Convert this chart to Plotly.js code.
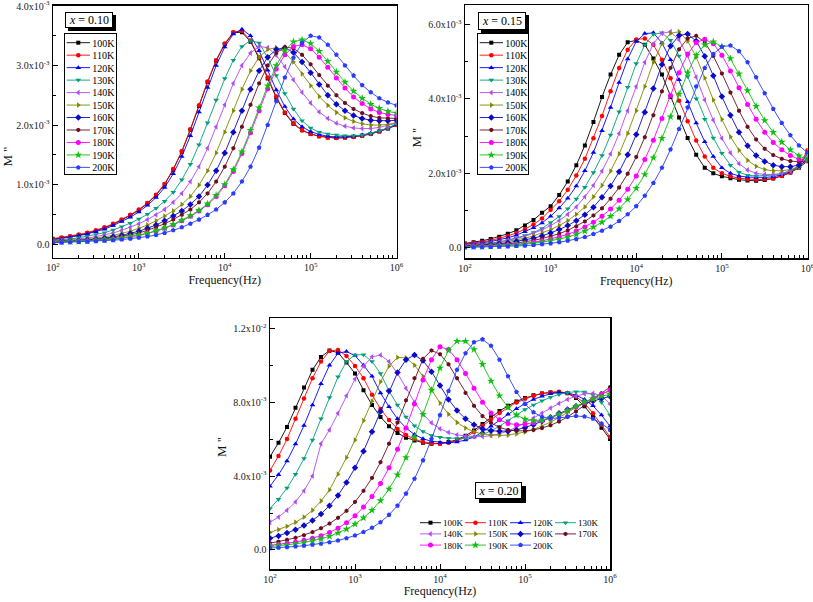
<!DOCTYPE html>
<html>
<head>
<meta charset="utf-8">
<script src="https://cdn.plot.ly/plotly-3.0.1.min.js"></script>
<style>
html,body{margin:0;padding:0;background:#fff;}
#chart{width:813px;height:602px;}
</style>
</head>
<body>
<div id="chart"></div>
<script>
// Frequencies (Hz), 10 points per decade
const freq = [100,125.9,158.5,199.5,251.2,316.2,398.1,501.2,631.0,794.3,
  1000,1259,1585,1995,2512,3162,3981,5012,6310,7943,
  10000,12589,15849,19953,25119,31623,39811,50119,63096,79433,
  100000,125893,158489,199526,251189,316228,398107,501187,630957,794328,1000000];

const temps = ['100K','110K','120K','130K','140K','150K','160K','170K','180K','190K','200K'];

// x = 0.10  (M'' in units of 1e-3)
const p1_100K = [0.08,0.10,0.12,0.15,0.18,0.22,0.27,0.33,0.40,0.48,0.57,0.68,0.82,1.00,1.25,1.55,1.92,2.32,2.72,3.08,3.36,3.55,3.56,3.40,3.12,2.78,2.46,2.20,2.02,1.91,1.85,1.81,1.79,1.78,1.79,1.80,1.82,1.85,1.89,1.94,2.00];
const p1_110K = [0.09,0.11,0.13,0.16,0.19,0.23,0.28,0.34,0.41,0.49,0.58,0.69,0.83,1.01,1.26,1.56,1.93,2.33,2.73,3.09,3.37,3.56,3.58,3.42,3.14,2.80,2.48,2.21,2.03,1.91,1.85,1.81,1.79,1.78,1.79,1.80,1.82,1.85,1.89,1.94,2.00];
const p1_120K = [0.07,0.09,0.11,0.14,0.17,0.21,0.25,0.31,0.38,0.45,0.54,0.65,0.78,0.95,1.18,1.47,1.82,2.22,2.63,3.00,3.31,3.53,3.61,3.50,3.25,2.92,2.59,2.31,2.10,1.97,1.89,1.84,1.81,1.80,1.80,1.81,1.83,1.86,1.90,1.95,2.01];
const p1_130K = [0.06,0.07,0.085,0.105,0.13,0.16,0.19,0.235,0.29,0.35,0.42,0.50,0.60,0.72,0.87,1.08,1.34,1.67,2.04,2.42,2.78,3.09,3.32,3.42,3.38,3.13,2.83,2.53,2.27,2.07,1.95,1.88,1.85,1.83,1.82,1.82,1.83,1.86,1.90,1.95,2.02];
const p1_140K = [0.05,0.06,0.07,0.085,0.10,0.125,0.155,0.185,0.23,0.28,0.34,0.41,0.49,0.58,0.70,0.85,1.05,1.30,1.61,1.97,2.34,2.70,3.00,3.21,3.32,3.30,3.17,2.98,2.76,2.55,2.37,2.22,2.11,2.03,1.98,1.95,1.94,1.94,1.96,1.99,2.03];
const p1_150K = [0.05,0.055,0.06,0.07,0.08,0.10,0.12,0.145,0.18,0.215,0.265,0.32,0.39,0.47,0.555,0.665,0.80,0.99,1.23,1.53,1.88,2.24,2.60,2.91,3.14,3.27,3.30,3.22,3.06,2.86,2.66,2.48,2.33,2.21,2.12,2.06,2.02,2.00,2.00,2.01,2.04];
const p1_160K = [0.04,0.045,0.05,0.06,0.07,0.08,0.095,0.12,0.145,0.175,0.215,0.265,0.32,0.39,0.47,0.555,0.665,0.80,0.99,1.23,1.53,1.88,2.24,2.60,2.91,3.14,3.27,3.30,3.22,3.06,2.88,2.68,2.50,2.35,2.24,2.16,2.11,2.08,2.07,2.07,2.08];
const p1_170K = [0.035,0.04,0.045,0.05,0.06,0.07,0.085,0.10,0.125,0.155,0.185,0.23,0.28,0.34,0.41,0.49,0.58,0.70,0.85,1.05,1.30,1.61,1.97,2.34,2.70,3.00,3.21,3.31,3.29,3.18,3.02,2.84,2.66,2.50,2.37,2.27,2.20,2.15,2.12,2.11,2.11];
const p1_180K = [0.03,0.035,0.04,0.045,0.05,0.06,0.07,0.08,0.095,0.12,0.145,0.175,0.215,0.265,0.32,0.39,0.465,0.555,0.66,0.80,0.98,1.22,1.52,1.87,2.24,2.61,2.94,3.18,3.32,3.35,3.28,3.14,2.97,2.79,2.62,2.47,2.36,2.27,2.21,2.18,2.16];
const p1_190K = [0.03,0.035,0.04,0.045,0.05,0.06,0.07,0.08,0.10,0.12,0.15,0.18,0.22,0.27,0.33,0.40,0.475,0.565,0.675,0.82,1.00,1.25,1.55,1.91,2.29,2.66,3.00,3.25,3.40,3.43,3.37,3.24,3.07,2.89,2.72,2.57,2.45,2.35,2.28,2.23,2.20];
const p1_200K = [0.02,0.025,0.03,0.035,0.04,0.045,0.055,0.065,0.075,0.09,0.105,0.125,0.15,0.185,0.23,0.28,0.34,0.41,0.49,0.58,0.70,0.85,1.05,1.30,1.62,2.00,2.40,2.80,3.13,3.38,3.50,3.47,3.35,3.18,3.00,2.83,2.67,2.55,2.45,2.38,2.33];

// x = 0.15
const p2_100K = [0.12,0.15,0.19,0.24,0.30,0.38,0.47,0.60,0.75,0.94,1.12,1.42,1.78,2.22,2.75,3.38,4.05,4.65,5.18,5.52,5.57,5.45,5.08,4.65,4.05,3.50,2.95,2.50,2.15,2.00,1.92,1.87,1.83,1.81,1.80,1.82,1.86,1.93,2.02,2.15,2.33];
const p2_110K = [0.11,0.13,0.16,0.20,0.25,0.32,0.40,0.50,0.63,0.79,1.02,1.25,1.56,1.94,2.39,2.94,3.54,4.20,4.83,5.32,5.59,5.62,5.45,5.05,4.55,3.95,3.40,2.88,2.45,2.15,2.00,1.92,1.87,1.84,1.83,1.84,1.87,1.93,2.02,2.20,2.62];
const p2_120K = [0.09,0.11,0.135,0.17,0.21,0.27,0.34,0.43,0.54,0.67,0.85,1.07,1.33,1.66,2.07,2.56,3.14,3.77,4.44,5.07,5.54,5.75,5.77,5.50,5.05,4.51,3.92,3.35,2.85,2.45,2.15,2.00,1.93,1.90,1.89,1.89,1.91,1.96,2.05,2.18,2.55];
const p2_130K = [0.07,0.08,0.10,0.13,0.16,0.21,0.26,0.33,0.41,0.52,0.68,0.84,1.05,1.31,1.63,2.02,2.48,3.03,3.65,4.31,4.95,5.45,5.73,5.77,5.57,5.15,4.60,4.00,3.45,2.95,2.54,2.22,2.03,1.95,1.93,1.93,1.95,1.99,2.07,2.21,2.50];
const p2_140K = [0.07,0.085,0.105,0.13,0.16,0.20,0.25,0.31,0.39,0.48,0.60,0.73,0.90,1.10,1.37,1.68,2.06,2.52,3.07,3.68,4.33,4.98,5.48,5.76,5.80,5.58,5.15,4.58,3.97,3.43,2.94,2.55,2.26,2.09,2.00,1.97,1.97,2.00,2.06,2.17,2.41];
const p2_150K = [0.06,0.07,0.09,0.11,0.135,0.17,0.21,0.26,0.32,0.40,0.49,0.60,0.73,0.90,1.10,1.37,1.68,2.06,2.52,3.07,3.68,4.33,4.98,5.48,5.76,5.80,5.55,5.12,4.56,3.97,3.45,2.98,2.62,2.35,2.19,2.10,2.07,2.07,2.10,2.17,2.36];
const p2_160K = [0.05,0.06,0.07,0.09,0.11,0.135,0.17,0.21,0.26,0.32,0.40,0.49,0.60,0.73,0.89,1.09,1.36,1.66,2.04,2.50,3.04,3.64,4.28,4.92,5.42,5.70,5.74,5.55,5.14,4.62,4.06,3.56,3.10,2.74,2.48,2.32,2.22,2.18,2.18,2.22,2.35];
const p2_170K = [0.04,0.05,0.06,0.07,0.085,0.105,0.13,0.16,0.20,0.25,0.31,0.38,0.47,0.58,0.71,0.87,1.06,1.32,1.62,1.99,2.44,2.97,3.56,4.20,4.83,5.33,5.62,5.69,5.52,5.15,4.68,4.17,3.68,3.25,2.91,2.66,2.49,2.39,2.33,2.31,2.33];
const p2_180K = [0.03,0.04,0.05,0.055,0.065,0.08,0.10,0.12,0.15,0.19,0.24,0.29,0.36,0.45,0.56,0.69,0.85,1.04,1.28,1.57,1.93,2.37,2.89,3.47,4.09,4.70,5.20,5.51,5.60,5.48,5.17,4.75,4.30,3.85,3.45,3.10,2.83,2.63,2.48,2.38,2.33];
const p2_190K = [0.025,0.03,0.035,0.045,0.055,0.065,0.08,0.10,0.12,0.15,0.19,0.23,0.29,0.36,0.45,0.56,0.69,0.85,1.05,1.30,1.60,1.97,2.42,2.94,3.52,4.13,4.70,5.17,5.45,5.53,5.40,5.08,4.67,4.22,3.80,3.42,3.10,2.84,2.63,2.47,2.36];
const p2_200K = [0.01,0.015,0.02,0.025,0.03,0.04,0.05,0.06,0.075,0.095,0.12,0.15,0.19,0.235,0.29,0.37,0.46,0.57,0.72,0.90,1.12,1.40,1.74,2.15,2.64,3.19,3.77,4.33,4.83,5.20,5.40,5.43,5.28,4.98,4.58,4.15,3.73,3.35,3.02,2.75,2.55];

// x = 0.20
const p3_100K = [5.05,5.8,6.65,7.7,8.8,9.75,10.45,10.8,10.68,10.15,9.55,8.65,7.85,7.2,6.7,6.33,6.08,5.92,5.8,5.75,5.76,5.84,5.97,6.18,6.47,6.82,7.18,7.52,7.8,8.04,8.23,8.37,8.47,8.52,8.55,8.48,8.22,7.78,7.22,6.62,6.0];
const p3_110K = [4.3,5.08,6.0,7.1,8.2,9.3,10.2,10.77,10.83,10.5,9.96,9.3,8.4,7.63,7.04,6.55,6.22,6.0,5.85,5.77,5.75,5.8,5.92,6.1,6.38,6.72,7.08,7.42,7.72,7.98,8.18,8.35,8.47,8.54,8.56,8.5,8.3,7.95,7.4,6.78,6.12];
const p3_120K = [3.45,4.07,4.82,5.73,6.74,7.85,9.0,10.0,10.65,10.74,10.52,10.0,9.4,8.5,7.75,7.1,6.6,6.25,6.02,5.88,5.82,5.8,5.85,5.95,6.12,6.38,6.7,7.03,7.35,7.65,7.92,8.15,8.32,8.45,8.52,8.5,8.38,8.15,7.8,7.3,6.7];
const p3_130K = [2.25,2.75,3.35,4.1,4.95,5.95,7.1,8.25,9.37,10.2,10.56,10.57,10.2,9.55,8.6,7.85,7.2,6.73,6.41,6.2,6.1,6.05,6.03,6.05,6.12,6.25,6.45,6.7,7.0,7.3,7.6,7.85,8.08,8.27,8.42,8.52,8.57,8.55,8.4,8.0,7.3];
const p3_140K = [1.5,1.78,2.15,2.6,3.2,4.0,5.75,6.5,7.4,8.35,9.25,9.95,10.45,10.55,10.2,9.55,8.75,8.0,7.35,6.88,6.56,6.36,6.23,6.16,6.13,6.14,6.19,6.29,6.44,6.64,6.88,7.14,7.41,7.68,7.93,8.15,8.33,8.45,8.48,8.35,7.9];
const p3_150K = [0.95,1.1,1.28,1.5,1.78,2.15,2.65,3.25,4.1,5.0,5.95,7.0,8.05,9.1,9.95,10.42,10.4,10.0,9.4,8.65,7.95,7.35,6.9,6.6,6.4,6.28,6.22,6.2,6.22,6.28,6.38,6.52,6.7,6.92,7.17,7.45,7.73,8.0,8.25,8.45,8.6];
const p3_160K = [0.63,0.76,0.92,1.1,1.32,1.6,1.95,2.4,2.95,3.65,4.45,5.35,6.4,7.5,8.6,9.6,10.3,10.55,10.25,9.65,8.9,8.15,7.55,7.1,6.78,6.56,6.45,6.42,6.43,6.5,6.62,6.78,6.97,7.18,7.4,7.6,7.78,7.93,8.07,8.2,8.32];
const p3_170K = [0.37,0.45,0.55,0.66,0.8,0.97,1.18,1.43,1.74,2.12,2.6,3.2,3.9,4.75,5.75,6.9,8.1,9.3,10.35,10.8,10.6,10.05,9.3,8.5,7.8,7.25,6.88,6.63,6.5,6.45,6.45,6.5,6.6,6.75,6.95,7.2,7.5,7.82,8.15,8.48,8.82];
const p3_180K = [0.25,0.3,0.36,0.43,0.52,0.63,0.77,0.95,1.18,1.48,1.85,2.32,2.9,3.6,4.45,5.45,6.6,7.9,9.2,10.3,11.0,10.85,10.3,9.55,8.75,8.0,7.42,7.05,6.85,6.78,6.8,6.88,7.0,7.15,7.33,7.53,7.75,7.98,8.2,8.43,8.65];
const p3_190K = [0.18,0.22,0.27,0.33,0.4,0.49,0.6,0.74,0.92,1.13,1.4,1.74,2.15,2.67,3.3,4.07,5.0,6.1,7.35,8.65,9.85,10.8,11.3,11.3,10.85,10.05,9.15,8.35,7.72,7.3,7.08,7.0,7.03,7.15,7.33,7.55,7.78,8.0,8.18,8.32,8.42];
const p3_200K = [0.1,0.12,0.15,0.19,0.23,0.28,0.34,0.42,0.51,0.63,0.78,0.97,1.2,1.5,1.9,2.4,3.05,3.85,4.85,6.0,7.3,8.6,9.75,10.65,11.25,11.4,11.05,10.3,9.4,8.55,7.9,7.45,7.2,7.12,7.15,7.22,7.25,7.22,7.1,6.85,6.5];

const xTickVals = [100,1000,10000,100000,1000000];
const xTickText = ['10<sup>2</sup>','10<sup>3</sup>','10<sup>4</sup>','10<sup>5</sup>','10<sup>6</sup>'];
const y1TickVals = [0,1,2,3,4];
const y1TickText = ['0.0','1.0x10<sup>-3</sup>','2.0x10<sup>-3</sup>','3.0x10<sup>-3</sup>','4.0x10<sup>-3</sup>'];
const y2TickVals = [0,2,4,6];
const y2TickText = ['0.0','2.0x10<sup>-3</sup>','4.0x10<sup>-3</sup>','6.0x10<sup>-3</sup>'];
const y3TickVals = [0,4,8,12];
const y3TickText = ['0.0','4.0x10<sup>-3</sup>','8.0x10<sup>-3</sup>','1.2x10<sup>-2</sup>'];

const colors = ['#000000','#FF0000','#0000FF','#00A07A','#B04CF0','#7F8A00','#0A0AC8','#6A0F1F','#FF00FF','#10C010','#2A3CFF'];
const symbols = ['square','circle','triangle-up','triangle-down','triangle-left','triangle-right','diamond','hexagon','circle','star','pentagon'];
const sizes = [4,4.5,5,5,5,5,5,4.5,5,6,5];

const sets = [
  {data:[p1_100K,p1_110K,p1_120K,p1_130K,p1_140K,p1_150K,p1_160K,p1_170K,p1_180K,p1_190K,p1_200K], xa:'x', ya:'y', lg:'legend'},
  {data:[p2_100K,p2_110K,p2_120K,p2_130K,p2_140K,p2_150K,p2_160K,p2_170K,p2_180K,p2_190K,p2_200K], xa:'x2', ya:'y2', lg:'legend2'},
  {data:[p3_100K,p3_110K,p3_120K,p3_130K,p3_140K,p3_150K,p3_160K,p3_170K,p3_180K,p3_190K,p3_200K], xa:'x3', ya:'y3', lg:'legend3'}
];

const traces = [];
sets.forEach(s => {
  s.data.forEach((vals, i) => {
    traces.push({
      type:'scatter', mode:'lines+markers', x: freq, y: vals, name: temps[i],
      xaxis: s.xa, yaxis: s.ya, legend: s.lg,
      line:{color: colors[i], width:0.9},
      marker:{symbol: symbols[i], size: sizes[i], color: colors[i], line:{width:0}}
    });
  });
});

const W = 813, H = 602;
function xAx(d0, d1, anchor) {
  return {
    type:'log', range:[2,6], domain:[d0/W, d1/W], anchor: anchor,
    tickmode:'array', tickvals: xTickVals, ticktext: xTickText,
    ticks:'inside', ticklen:5, tickwidth:1, tickcolor:'#000',
    minor:{ticks:'inside', ticklen:3, tickwidth:1, tickcolor:'#000', dtick:'D1', showgrid:false},
    showline:true, linewidth:1.5, linecolor:'#000', mirror:true,
    showgrid:false, zeroline:false, ticklabeloverflow:'allow',
    tickfont:{size:10, color:'#222'},
    title:{text:'Frequency(Hz)', font:{size:12, color:'#111'}, standoff:1}
  };
}
function yAx(top, bot, range, tv, tt, minorDt, anchor) {
  return {
    range: range, domain:[1 - bot/H, 1 - top/H], anchor: anchor,
    tickmode:'array', tickvals: tv, ticktext: tt,
    ticks:'inside', ticklen:5, tickwidth:1, tickcolor:'#000',
    minor:{ticks:'inside', ticklen:3, tickwidth:1, tickcolor:'#000', dtick: minorDt, tick0:0, showgrid:false},
    showline:true, linewidth:1.5, linecolor:'#000', mirror:true,
    showgrid:false, zeroline:false, ticklabeloverflow:'allow',
    tickfont:{size:10, color:'#222'},
    title:{text:"M ''", font:{size:13, color:'#111'}, standoff:3}
  };
}

const layout = {
  width: W, height: H,
  margin:{l:0, r:0, t:0, b:0, autoexpand:false},
  paper_bgcolor:'#fff', plot_bgcolor:'#fff',
  font:{family:'"Liberation Serif", "Times New Roman", serif', size:10, color:'#000'},
  showlegend:true,
  xaxis: xAx(53, 396.5, 'y'),
  yaxis: yAx(5.7, 257.7, [-0.23, 4.005], y1TickVals, y1TickText, 0.5, 'x'),
  xaxis2: xAx(465, 807.5, 'y2'),
  yaxis2: yAx(5.3, 258.3, [-0.28, 6.51], y2TickVals, y2TickText, 1, 'x2'),
  xaxis3: xAx(270, 610, 'y3'),
  yaxis3: yAx(318.3, 569, [-1.03, 12.54], y3TickVals, y3TickText, 2, 'x3'),
  legend:{x:64.3/W, y:1-33.3/H, xanchor:'left', yanchor:'top', bgcolor:'#fff', bordercolor:'#000', borderwidth:1, font:{size:10}, tracegroupgap:0},
  legend2:{x:477.3/W, y:1-33.3/H, xanchor:'left', yanchor:'top', bgcolor:'#fff', bordercolor:'#000', borderwidth:1, font:{size:10}, tracegroupgap:0},
  legend3:{x:418/W, y:1-516/H, xanchor:'left', yanchor:'top', orientation:'h', bgcolor:'rgba(0,0,0,0)', borderwidth:0, font:{size:9}},
  shapes:[
    {type:'rect', xref:'paper', yref:'paper', x0:68/W, x1:116/W, y0:1-31/H, y1:1-15/H, fillcolor:'#000', line:{width:0}, layer:'above'},
    {type:'rect', xref:'paper', yref:'paper', x0:481/W, x1:529/W, y0:1-33/H, y1:1-15/H, fillcolor:'#000', line:{width:0}, layer:'above'},
    {type:'rect', xref:'paper', yref:'paper', x0:479/W, x1:526/W, y0:1-503/H, y1:1-486/H, fillcolor:'#000', line:{width:0}, layer:'above'}
  ],
  annotations:[
    {xref:'paper', yref:'paper', x:89/W, y:1-20/H, xanchor:'center', yanchor:'middle', showarrow:false,
     text:'<i>x</i> = 0.10', font:{size:12, color:'#000'}, bgcolor:'#fff', bordercolor:'#000', borderwidth:1, borderpad:1, width:44, height:12},
    {xref:'paper', yref:'paper', x:502/W, y:1-21/H, xanchor:'center', yanchor:'middle', showarrow:false,
     text:'<i>x</i> = 0.15', font:{size:12, color:'#000'}, bgcolor:'#fff', bordercolor:'#000', borderwidth:1, borderpad:1, width:44, height:14},
    {xref:'paper', yref:'paper', x:498.5/W, y:1-490.5/H, xanchor:'center', yanchor:'middle', showarrow:false,
     text:'<i>x</i> = 0.20', font:{size:12, color:'#000'}, bgcolor:'#fff', bordercolor:'#000', borderwidth:1, borderpad:1, width:43, height:13}
  ]
};

function compactLegends(gd) {
  const specs = [
    {cls:'legend',  rowH:12.47, y0:9.4, cols:1, colW:0,  lineX:2.4, lineL:23.3, markX:14, textX:28, w:51.4, h:140.7},
    {cls:'legend2', rowH:12.47, y0:9.4, cols:1, colW:0,  lineX:2.4, lineL:23.3, markX:14, textX:28, w:51, h:140.7},
    {cls:'legend3', rowH:11.2,  y0:6.7, cols:4, colW:45, lineX:2,   lineL:21,   markX:12.5, textX:25, w:0, h:0}
  ];
  specs.forEach(s => {
    try {
      const g = gd.querySelector('g.' + s.cls);
      if (!g) return;
      const items = g.querySelectorAll('g.traces');
      items.forEach((it, i) => {
        const c = i % s.cols, r = Math.floor(i / s.cols);
        it.setAttribute('transform', 'translate(' + (c * s.colW) + ',' + (s.y0 + r * s.rowH) + ')');
        it.querySelectorAll('.legendlines path').forEach(p => p.setAttribute('d', 'M' + s.lineX + ',0h' + s.lineL));
        it.querySelectorAll('.legendpoints path').forEach(p => p.setAttribute('transform', 'translate(' + s.markX + ',0)'));
        it.querySelectorAll('text').forEach(t => {
          t.setAttribute('x', s.textX);
          t.querySelectorAll('tspan.line').forEach(ts => ts.setAttribute('x', s.textX));
        });
      });
      const bg = g.querySelector('rect.bg');
      if (bg && s.w) {
        bg.setAttribute('width', s.w); bg.setAttribute('height', s.h);
        bg.setAttribute('x', 0.5); bg.setAttribute('y', 0.5);
      }
      const sb = g.querySelector('g.scrollbox');
      if (sb) sb.removeAttribute('clip-path');
      const bar = g.querySelector('rect.scrollbar');
      if (bar) bar.style.display = 'none';
    } catch (e) {}
  });
}

// nudge y-axis titles to where the reference places them
function nudgeTitles(gd) {
  const moves = [['ytitle', 0, 25], ['y2title', 0, 6], ['y3title', 0, 3.5]];
  moves.forEach(m => {
    try {
      const t = gd.querySelector('text.' + m[0]);
      if (!t) return;
      const tr = t.getAttribute('transform') || '';
      t.setAttribute('transform', 'translate(' + m[1] + ',' + m[2] + ') ' + tr);
    } catch (e) {}
  });
}

Plotly.newPlot('chart', traces, layout, {staticPlot:true, displayModeBar:false})
  .then(gd => { compactLegends(gd); nudgeTitles(gd); });
</script>
</body>
</html>
